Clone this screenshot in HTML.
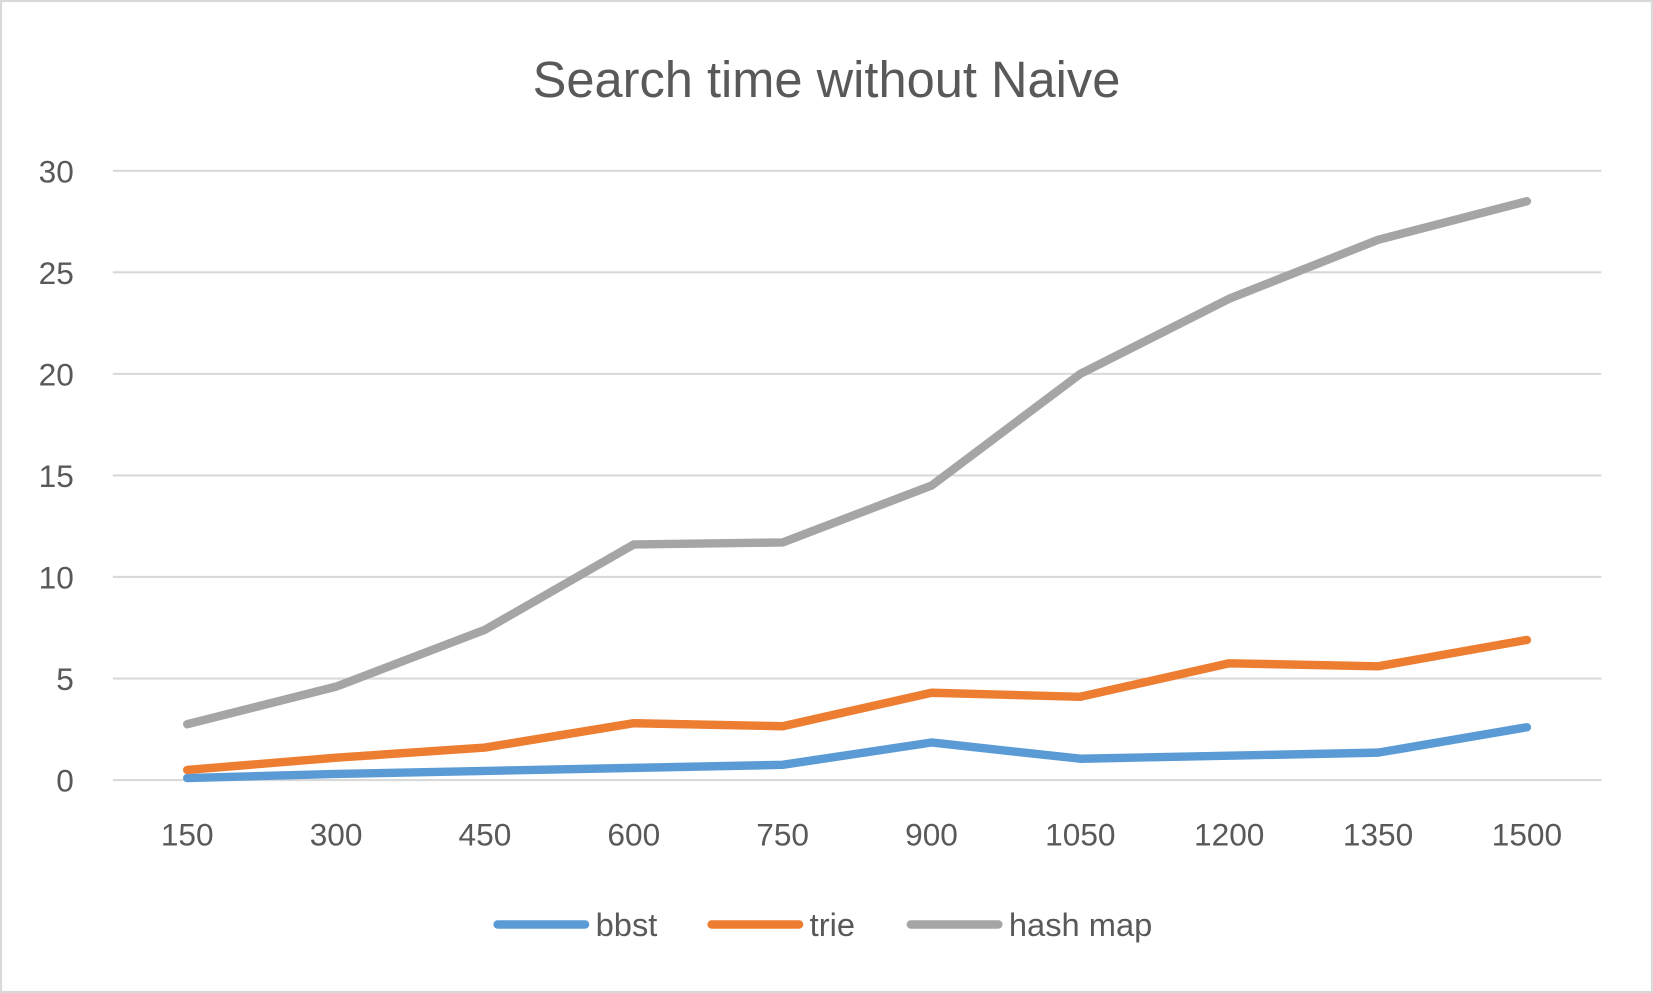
<!DOCTYPE html>
<html><head><meta charset="utf-8"><style>
html,body{margin:0;padding:0;background:#fff;}
svg{display:block;font-family:"Liberation Sans","DejaVu Sans",sans-serif;}
</style></head><body>
<svg id="chart" width="1653" height="993" viewBox="0 0 1568 942" preserveAspectRatio="none">
<rect x="1" y="1" width="1566" height="940" fill="#fff" stroke="#d9d9d9" stroke-width="2"/>
<text x="784" y="92" text-anchor="middle" font-size="48" fill="#595959">Search time without Naive</text>
<g id="grid"></g><g id="xlabels"></g><g id="series"></g>
<g>
<line x1="472" y1="877" x2="555" y2="877" stroke="#5b9bd5" stroke-width="8" stroke-linecap="round"/>
<text x="565" y="888" font-size="31" fill="#595959">bbst</text>
<line x1="675" y1="877" x2="758" y2="877" stroke="#ed7d31" stroke-width="8" stroke-linecap="round"/>
<text x="768" y="888" font-size="31" fill="#595959">trie</text>
<line x1="864" y1="877" x2="947" y2="877" stroke="#a5a5a5" stroke-width="8" stroke-linecap="round"/>
<text x="957" y="888" font-size="31" fill="#595959">hash map</text>
</g>
</svg>
<script>
const categories=[150,300,450,600,750,900,1050,1200,1350,1500];
const bbst=[0.1,0.3,0.45,0.6,0.75,1.85,1.05,1.2,1.35,2.6];
const trie=[0.5,1.1,1.6,2.8,2.65,4.3,4.1,5.75,5.6,6.9];
const hashMap=[2.75,4.6,7.4,11.6,11.7,14.5,20,23.7,26.6,28.5];
const yTicks=[0,5,10,15,20,25,30];
const NS="http://www.w3.org/2000/svg";
const plotLeft=107,plotRight=1519,plotTop=162,plotBottom=740,yMax=30;
function xPos(i){const w=(plotRight-plotLeft)/categories.length;return plotLeft+w*(i+0.5);}
function yPos(v){return plotBottom-(v/yMax)*(plotBottom-plotTop);}
const grid=document.getElementById('grid');
yTicks.forEach(t=>{
 const l=document.createElementNS(NS,'line');
 
 
 l.setAttribute('x1',plotLeft);l.setAttribute('x2',plotRight);
 l.setAttribute('y1',yPos(t));l.setAttribute('y2',yPos(t));
 l.setAttribute('stroke','#d9d9d9');l.setAttribute('stroke-width','2');
 grid.appendChild(l);
 const tx=document.createElementNS(NS,'text');
 
 
 tx.setAttribute('x',70);tx.setAttribute('y',yPos(t)+11);
 tx.setAttribute('text-anchor','end');tx.setAttribute('font-size','30');tx.setAttribute('fill','#595959');
 tx.textContent=t;grid.appendChild(tx);
});
const xl=document.getElementById('xlabels');
categories.forEach((c,i)=>{
 const tx=document.createElementNS(NS,'text');
 
 
 tx.setAttribute('x',xPos(i));tx.setAttribute('y',802);
 tx.setAttribute('text-anchor','middle');tx.setAttribute('font-size','30');tx.setAttribute('fill','#595959');
 tx.textContent=c;xl.appendChild(tx);
});
const sg=document.getElementById('series');
[[bbst,'#5b9bd5','line-bbst'],[trie,'#ed7d31','line-trie'],[hashMap,'#a5a5a5','line-hash-map']].forEach(([d,col,name])=>{
 const p=document.createElementNS(NS,'polyline');
 
 
 p.setAttribute('points',d.map((v,i)=>xPos(i)+','+yPos(v)).join(' '));
 p.setAttribute('fill','none');p.setAttribute('stroke',col);p.setAttribute('stroke-width','8');
 p.setAttribute('stroke-linecap','round');p.setAttribute('stroke-linejoin','round');
 sg.appendChild(p);
});
</script>
</body></html>
